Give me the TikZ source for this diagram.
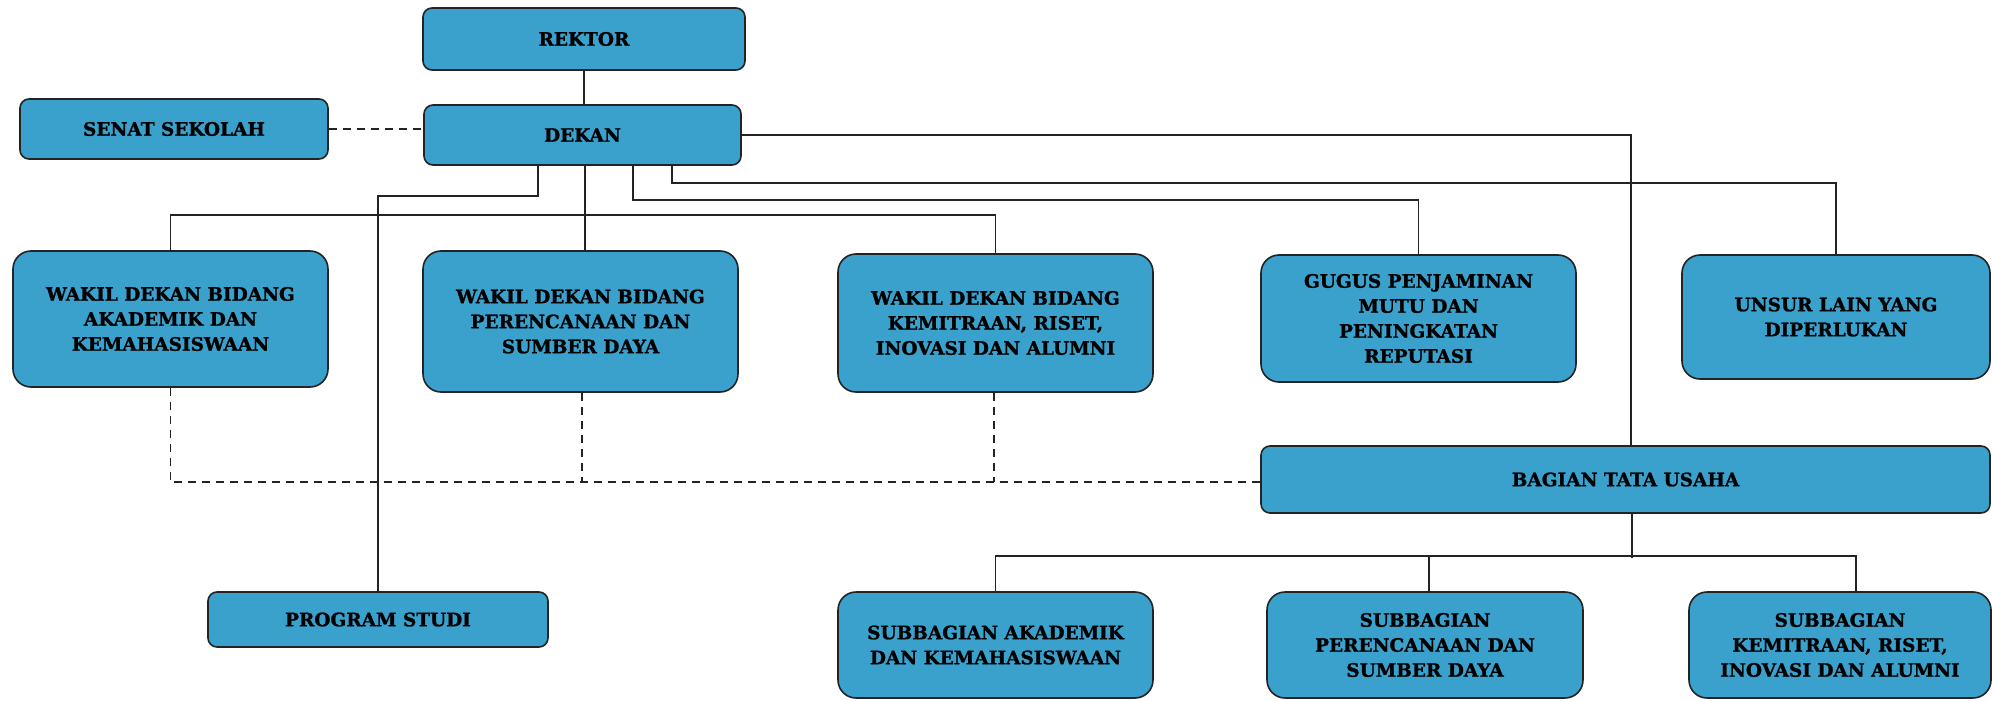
\documentclass[tikz,border=0pt]{standalone}
\usepackage{fontspec}
\setmainfont{DejaVu Serif}[BoldFeatures={FakeBold=1.2}]
\definecolor{boxblue}{RGB}{58,160,204}
\definecolor{edge}{RGB}{35,35,35}
\tikzset{
  orgbox/.style={draw=edge, line width=1.6pt, fill=boxblue, rounded corners=9pt,
    align=center, inner sep=0pt, font=\fontsize{18.5}{25}\selectfont\bfseries},
  bigbox/.style={orgbox, rounded corners=18pt},
  conn/.style={draw=edge, line width=1.6pt},
  dashline/.style={draw=edge, line width=1.5pt, dash pattern=on 8pt off 6pt}
}
\begin{document}
\begin{tikzpicture}[x=1pt,y=-1pt]
\useasboundingbox (0,0) rectangle (1992,701);
% nodes
\node[orgbox, minimum width=322pt, minimum height=62pt] (rektor) at (584,39) {REKTOR};
\node[orgbox, minimum width=308pt, minimum height=60pt] (senat) at (174,129) {SENAT SEKOLAH};
\node[orgbox, minimum width=317pt, minimum height=60pt] (dekan) at (582.5,135) {DEKAN};
\node[bigbox, minimum width=315pt, minimum height=136pt] (wd1) at (170.5,319) {WAKIL DEKAN BIDANG\\AKADEMIK DAN\\KEMAHASISWAAN};
\node[bigbox, minimum width=315pt, minimum height=141pt] (wd2) at (580.5,321.5) {WAKIL DEKAN BIDANG\\PERENCANAAN DAN\\SUMBER DAYA};
\node[bigbox, minimum width=315pt, minimum height=138pt] (wd3) at (995.5,323) {WAKIL DEKAN BIDANG\\KEMITRAAN, RISET,\\INOVASI DAN ALUMNI};
\node[bigbox, minimum width=315pt, minimum height=127pt] (gugus) at (1418.5,318.5) {GUGUS PENJAMINAN\\MUTU DAN\\PENINGKATAN\\REPUTASI};
\node[bigbox, minimum width=308pt, minimum height=124pt] (unsur) at (1836,317) {UNSUR LAIN YANG\\DIPERLUKAN};
\node[orgbox, minimum width=729pt, minimum height=67pt] (btu) at (1625.5,479.5) {BAGIAN TATA USAHA};
\node[orgbox, minimum width=340pt, minimum height=55pt] (ps) at (378,619.5) {PROGRAM STUDI};
\node[bigbox, minimum width=315pt, minimum height=106pt] (sub1) at (995.5,645) {SUBBAGIAN AKADEMIK\\DAN KEMAHASISWAAN};
\node[bigbox, minimum width=316pt, minimum height=106pt] (sub2) at (1425,645) {SUBBAGIAN\\PERENCANAAN DAN\\SUMBER DAYA};
\node[bigbox, minimum width=302pt, minimum height=106pt] (sub3) at (1840,645) {SUBBAGIAN\\KEMITRAAN, RISET,\\INOVASI DAN ALUMNI};
% solid connectors
\draw[conn] (rektor.south) -- (rektor.south |- dekan.north);
\draw[conn] ([xshift=-44.5pt]dekan.south) -- ++(0,30) -| (ps.north);
\draw[conn] ([xshift=2.5pt]dekan.south) -- ([xshift=2.5pt]dekan.south |- wd2.north);
\draw[conn] (wd1.north) -- ++(0,-35) -| (wd3.north);
\draw[conn] ([xshift=50.5pt]dekan.south) -- ++(0,34) -| (gugus.north);
\draw[conn] ([xshift=89.5pt]dekan.south) -- ++(0,17) -| (unsur.north);
\draw[conn] (dekan.east) -| ([xshift=5.5pt]btu.north);
\draw[conn] ([xshift=6.5pt]btu.south) -- ++(0,44);
\draw[conn] (sub1.north) -- ++(0,-35) -| ([xshift=16pt]sub3.north);
\draw[conn] ([xshift=4pt]sub2.north) -- ++(0,-35);
% dashed connectors
\draw[dashline] (senat.east) -- (senat.east -| dekan.west);
\draw[dashline] (wd1.south) |- ([yshift=-2.5pt]btu.west);
\draw[dashline] ([xshift=1.5pt]wd2.south) -- ([xshift=1.5pt,yshift=-2.5pt]wd2.south |- btu.west);
\draw[dashline] ([xshift=-1.5pt]wd3.south) -- ([xshift=-1.5pt,yshift=-2.5pt]wd3.south |- btu.west);
\end{tikzpicture}
\end{document}
